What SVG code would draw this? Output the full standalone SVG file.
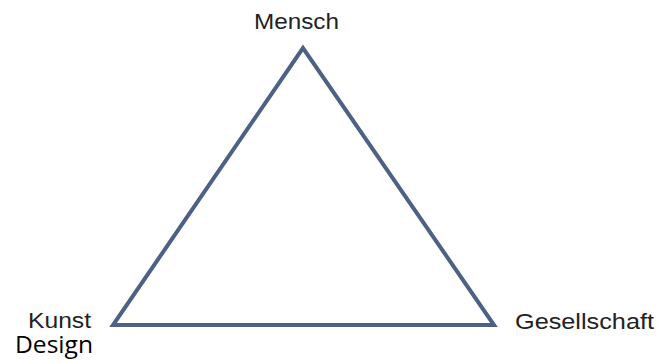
<svg xmlns="http://www.w3.org/2000/svg" width="658" height="362" viewBox="0 0 658 362">
<style>
.lbl{font-family:"Liberation Sans",Arial,sans-serif;font-size:22px;fill:#222}
.edge{fill:none;stroke:#4d6185;stroke-width:4;stroke-linejoin:miter}
</style>
<rect width="658" height="362" fill="#fff"/>
<g id="connectors">
<polygon class="edge" points="303,48 113,325 494,325"/>
</g>
<g id="mensch"><text class="lbl" x="254" y="29" textLength="85" lengthAdjust="spacingAndGlyphs">Mensch</text></g>
<g id="kunst"><text class="lbl" x="28" y="328" textLength="63" lengthAdjust="spacingAndGlyphs">Kunst</text></g>
<g id="gesellschaft"><text class="lbl" x="515" y="329" textLength="139" lengthAdjust="spacingAndGlyphs">Gesellschaft</text></g>
<g id="design"><text x="15" y="353" font-family="'Open Sans',sans-serif" font-size="24" fill="#000" textLength="78" lengthAdjust="spacingAndGlyphs">Design</text></g>
</svg>
